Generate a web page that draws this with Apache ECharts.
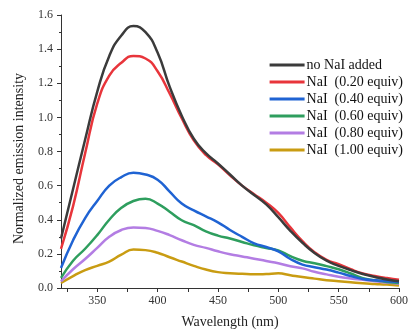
<!DOCTYPE html>
<html>
<head>
<meta charset="utf-8">
<script src="https://cdn.jsdelivr.net/npm/echarts@6/dist/echarts.min.js"></script>
<style>html,body{margin:0;padding:0;background:#fff;}#c{width:408px;height:331px;}</style>
</head>
<body>
<div id="c"></div>
<script>
var wavelengths = [320,330,340,350,360,370,380,390,400,410,420,430,440,450,460,470,480,490,500,510,520,530,540,550,560,570,580,590,600];
var noNaI = [0.29,0.58,0.87,1.15,1.36,1.48,1.535,1.50,1.38,1.18,1.01,0.875,0.79,0.73,0.665,0.60,0.545,0.49,0.415,0.335,0.265,0.205,0.16,0.13,0.105,0.082,0.065,0.05,0.04];
var naI020 = [0.23,0.48,0.79,1.08,1.245,1.32,1.36,1.345,1.27,1.14,0.995,0.865,0.78,0.725,0.66,0.60,0.55,0.50,0.44,0.355,0.275,0.21,0.165,0.14,0.11,0.085,0.07,0.058,0.048];
var naI040 = [0.117,0.28,0.41,0.51,0.60,0.65,0.675,0.665,0.635,0.565,0.495,0.455,0.42,0.385,0.34,0.30,0.262,0.24,0.215,0.17,0.137,0.122,0.108,0.09,0.07,0.053,0.045,0.04,0.035];
var naI060 = [0.059,0.16,0.23,0.31,0.40,0.47,0.51,0.523,0.495,0.447,0.397,0.368,0.332,0.307,0.29,0.27,0.25,0.235,0.22,0.187,0.16,0.145,0.128,0.11,0.085,0.057,0.045,0.035,0.029];
var naI080 = [0.039,0.11,0.17,0.235,0.30,0.34,0.355,0.352,0.335,0.31,0.28,0.253,0.235,0.215,0.198,0.185,0.172,0.158,0.145,0.127,0.115,0.095,0.08,0.066,0.056,0.048,0.04,0.032,0.025];
var naI100 = [0.029,0.07,0.105,0.13,0.155,0.195,0.225,0.222,0.207,0.18,0.155,0.13,0.108,0.093,0.087,0.083,0.08,0.082,0.086,0.075,0.064,0.055,0.046,0.04,0.034,0.028,0.024,0.02,0.015];
var seriesNames = ['no NaI added','NaI  (0.20 equiv)','NaI  (0.40 equiv)','NaI  (0.60 equiv)','NaI  (0.80 equiv)','NaI  (1.00 equiv)'];
var xLabelValues = [350,400,450,500,550,600];
var xTickValues = [325,350,375,400,425,450,475,500,525,550,575,600];

var colors = ['#3b3b3b','#e8353b','#1f63d3','#2e9e5e','#b37de3','#c99c12'];
var allData = [noNaI, naI020, naI040, naI060, naI080, naI100];

function pairs(arr){ return wavelengths.map(function(w,i){ return [w, arr[i]]; }); }

var font = 'Liberation Serif';
var chart = echarts.init(document.getElementById('c'), null, {renderer:'canvas'});
chart.setOption({
  animation: false,
  backgroundColor: '#fff',
  grid: {left: 61, right: 9, top: 15, bottom: 43, outerBoundsMode: 'none', containLabel: false},
  legend: {
    orient: 'vertical',
    right: 0,
    top: 53,
    itemWidth: 35,
    itemHeight: 3,
    itemGap: 3,
    icon: 'rect',
    textStyle: {fontFamily: font, fontSize: 14, color: '#111', lineHeight: 14, padding: [0,0,0,-3]},
    data: seriesNames
  },
  xAxis: {
    type: 'value', min: 320, max: 600,
    name: 'Wavelength (nm)', nameLocation: 'middle', nameGap: 27,
    nameTextStyle: {fontFamily: font, fontSize: 14, color: '#222'},
    axisLine: {show: true, lineStyle: {color: '#333', width: 1}},
    axisTick: {show: true, length: 4, customValues: xTickValues, lineStyle: {color: '#333'}},
    axisLabel: {customValues: xLabelValues, fontFamily: font, fontSize: 12, color: '#333', margin: 7},
    splitLine: {show: false}
  },
  yAxis: {
    type: 'value', min: 0, max: 1.6, interval: 0.2,
    name: 'Normalized emission intensity', nameLocation: 'middle', nameGap: 35,
    nameTextStyle: {fontFamily: font, fontSize: 14, color: '#222', padding: [0, 14, 0, 0]},
    axisLine: {show: true, lineStyle: {color: '#333', width: 1}},
    axisTick: {show: true, length: 4, lineStyle: {color: '#333'}},
    minorTick: {show: true, splitNumber: 2, length: 2, lineStyle: {color: '#333'}},
    axisLabel: {formatter: function(v){ return v.toFixed(1); }, fontFamily: font, fontSize: 12, color: '#333', margin: 8},
    splitLine: {show: false}
  },
  series: allData.map(function(d, i){
    return {
      name: seriesNames[i], type: 'line', data: pairs(d), smooth: 0.5, showSymbol: false,
      lineStyle: {color: colors[i], width: 2.5}, itemStyle: {color: colors[i]}, z: 10 - i
    };
  })
});
</script>
</body>
</html>
